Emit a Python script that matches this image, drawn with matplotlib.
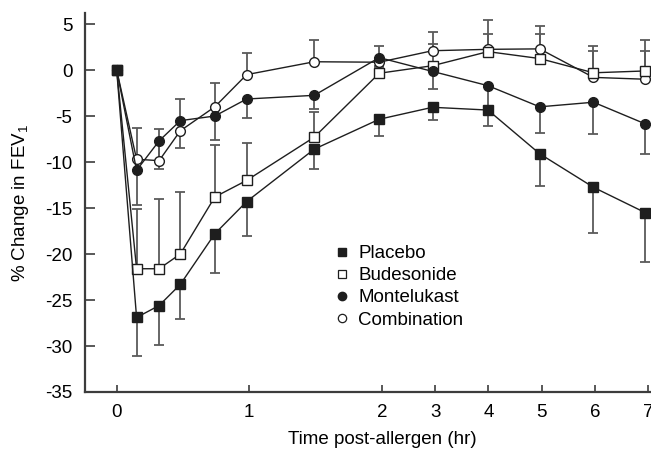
import matplotlib
matplotlib.use("Agg")
import matplotlib.pyplot as plt
import numpy as np
from matplotlib.lines import Line2D

plt.rcParams["font.family"] = ["Liberation Sans", "DejaVu Sans"]
plt.rcParams["mathtext.fontset"] = "custom"
plt.rcParams["mathtext.rm"] = "Liberation Sans"
plt.rcParams["axes.unicode_minus"] = False

# time post-allergen (hr)
hours = [0, 0.15, 0.32, 0.48, 0.74, 0.98, 1.49, 1.98, 2.95, 3.99, 4.96, 5.97, 6.94]

placebo = [0, -26.9, -25.6, -23.3, -17.8, -14.3, -8.6, -5.35, -4.05, -4.35, -9.1, -12.75, -15.5]
placebo_err = [0, 4.2, 4.3, 3.8, 4.3, 3.7, 2.2, 1.85, 1.35, 1.7, 3.5, 4.95, 5.4]  # down

budesonide = [0, -21.6, -21.6, -20.0, -13.8, -12.0, -7.3, -0.35, 0.47, 2.0, 1.25, -0.3, -0.1]
budesonide_err = [0, 6.5, 7.6, 6.7, 5.6, 4.1, 2.75, 0.8, 2.4, 1.9, 2.65, 2.95, 3.4]  # up

montelukast = [0, -10.9, -7.7, -5.5, -5.0, -3.15, -2.75, 1.35, -0.15, -1.7, -4.0, -3.5, -5.85]
montelukast_err = [0, 3.8, 3.1, 2.95, 2.6, 2.05, 1.45, 1.0, 1.95, 2.5, 2.8, 3.5, 3.25]  # down

combination = [0, -9.7, -9.85, -6.6, -4.0, -0.5, 0.9, 0.85, 2.1, 2.25, 2.3, -0.8, -1.0]
combination_err = [0, 3.4, 3.45, 3.4, 2.55, 2.3, 2.35, 1.8, 2.0, 3.15, 2.5, 2.9, 3.1]  # up


# axis is stretched for the first 2 hours
def fwd(x):
    x = np.asarray(x, dtype=float)
    return np.where(x <= 2, x, 2 + (x - 2) * 0.402)


def inv(y):
    y = np.asarray(y, dtype=float)
    return np.where(y <= 2, y, 2 + (y - 2) / 0.402)


fig = plt.figure(figsize=(6.51, 4.49), dpi=100)
ax = fig.add_axes([85 / 651, 1 - 392 / 449, 565 / 651, 379 / 449])
ax.set_xscale("function", functions=(fwd, inv))

err_col = "#5a5a5a"
line_col = "#1e1e1e"
zero = [0] * len(hours)
fs = 13.5

series = [
    ("Combination", combination, [zero, combination_err], "o", "white", 2),
    ("Budesonide", budesonide, [zero, budesonide_err], "s", "white", 3),
    ("Montelukast", montelukast, [montelukast_err, zero], "o", line_col, 4),
    ("Placebo", placebo, [placebo_err, zero], "s", line_col, 5),
]

for name, vals, err, mk, fc, z in series:
    ax.errorbar(hours, vals, yerr=err, fmt="none", ecolor=err_col, elinewidth=1.3,
                capsize=3.5, capthick=1.3, zorder=1)
    ax.plot(hours, vals, color=line_col, lw=1.0, marker=mk, ms=7, mfc=fc,
            mec=line_col, mew=1.0, zorder=z)

ax.set_xlim(-0.239, 7.03)
ax.set_ylim(-35, 6.2)
ax.set_xticks(range(8))
ax.set_xticklabels([str(i) for i in range(8)])
ax.set_yticks(range(-35, 6, 5))

for s in ["top", "right"]:
    ax.spines[s].set_visible(False)
for s in ["left", "bottom"]:
    ax.spines[s].set_color("#3c3c3c")
    ax.spines[s].set_linewidth(1.6)

ax.tick_params(axis="x", direction="in", length=5, width=1.2, color="#3c3c3c",
               labelsize=fs, pad=8.5)
ax.tick_params(axis="y", direction="in", length=7, width=1.2, color="#3c3c3c",
               labelsize=fs, pad=9)

ax.set_xlabel("Time post-allergen (hr)", fontsize=fs)
ax.xaxis.set_label_coords(0.5265, -0.104)
ax.set_ylabel("% Change in FEV$_1$", fontsize=fs)
ax.yaxis.set_label_coords(-0.096, 0.5)

handles = [
    Line2D([], [], ls="none", marker="s", ms=6, mfc=line_col, mec=line_col),
    Line2D([], [], ls="none", marker="s", ms=6, mfc="white", mec=line_col, mew=0.9),
    Line2D([], [], ls="none", marker="o", ms=6, mfc=line_col, mec=line_col),
    Line2D([], [], ls="none", marker="o", ms=6, mfc="white", mec=line_col, mew=0.9),
]
ax.legend(handles, ["Placebo", "Budesonide", "Montelukast", "Combination"],
          loc="upper left", bbox_to_anchor=((334 - 85) / 565, (392 - 245) / 379),
          frameon=False, fontsize=fs, handlelength=0.8, handletextpad=0.48,
          labelspacing=0.27, borderpad=0, borderaxespad=0)

fig.savefig("out.png", dpi=100)
